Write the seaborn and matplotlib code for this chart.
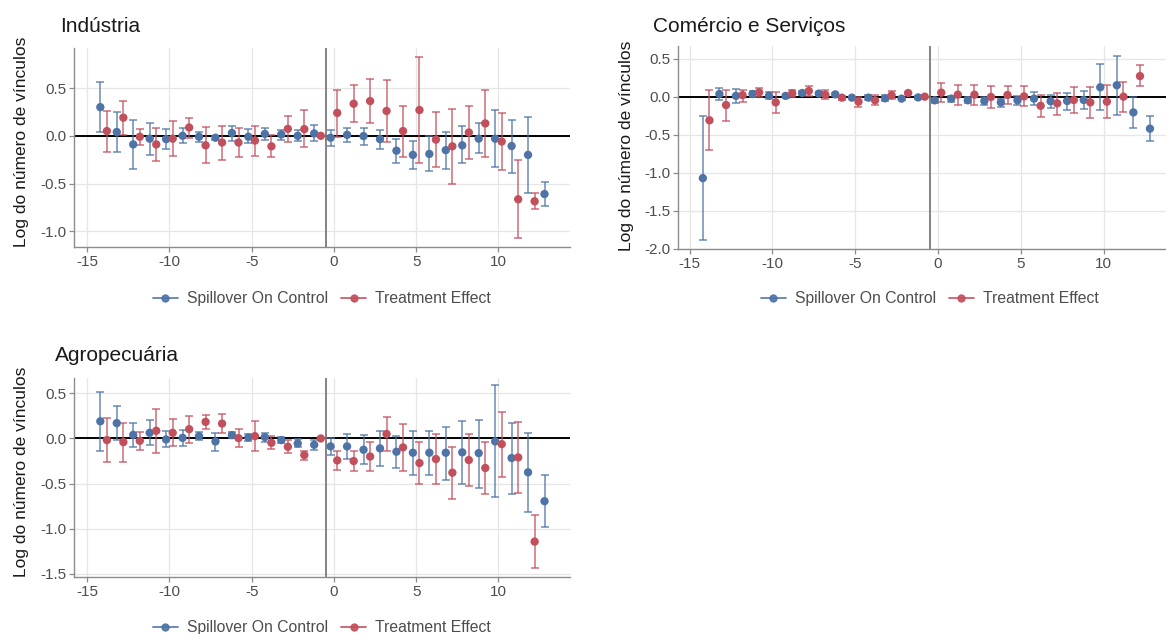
import numpy as np
import pandas as pd
import matplotlib
matplotlib.use("Agg")
import matplotlib.pyplot as plt
from matplotlib.lines import Line2D
import seaborn as sns

# event time: spillover from -14 to 13, treatment from -14 to 12
t_spill = list(range(-14, 14))
t_treat = list(range(-14, 13))

# Indústria
ind_spill_est = [0.30, 0.04, -0.09, -0.03, -0.035, 0.0, -0.01, -0.02, 0.03, -0.01, 0.02, 0.014, 0.0, 0.025,
                 -0.02, 0.01, -0.003, -0.035, -0.156, -0.20, -0.19, -0.15, -0.10, -0.03, -0.03, -0.107, -0.20, -0.61]
ind_spill_lo = [0.04, -0.17, -0.35, -0.20, -0.14, -0.08, -0.06, -0.045, -0.05, -0.08, -0.045, -0.04, -0.055, -0.055,
                -0.107, -0.06, -0.094, -0.14, -0.28, -0.35, -0.37, -0.35, -0.29, -0.18, -0.33, -0.39, -0.60, -0.74]
ind_spill_hi = [0.56, 0.25, 0.17, 0.135, 0.07, 0.08, 0.04, 0.0, 0.10, 0.07, 0.08, 0.066, 0.06, 0.11,
                0.066, 0.087, 0.083, 0.066, -0.035, -0.05, -0.007, 0.045, 0.10, 0.13, 0.27, 0.17, 0.20, -0.48]
ind_treat_est = [0.05, 0.19, -0.01, -0.09, -0.03, 0.087, -0.10, -0.07, -0.07, -0.05, -0.11, 0.073, 0.07, 0.0,
                 0.24, 0.336, 0.364, 0.26, 0.05, 0.27, -0.04, -0.11, 0.035, 0.13, -0.06, -0.665, -0.686]
ind_treat_lo = [-0.17, 0.01, -0.10, -0.26, -0.21, -0.02, -0.29, -0.25, -0.22, -0.21, -0.22, -0.07, -0.12, 0.0,
                -0.01, 0.14, 0.13, -0.06, -0.22, -0.29, -0.33, -0.51, -0.24, -0.22, -0.36, -1.07, -0.77]
ind_treat_hi = [0.26, 0.36, 0.07, 0.08, 0.155, 0.19, 0.09, 0.10, 0.08, 0.10, 0.01, 0.21, 0.27, 0.0,
                0.485, 0.53, 0.60, 0.58, 0.31, 0.83, 0.25, 0.28, 0.31, 0.475, 0.235, -0.25, -0.60]

# Comércio e Serviços
com_spill_est = [-1.07, 0.035, 0.01, 0.035, 0.013, 0.01, 0.048, 0.04, 0.03, -0.013, -0.013, -0.022, -0.026, -0.01,
                 -0.048, -0.026, -0.048, -0.057, -0.075, -0.048, -0.026, -0.06, -0.057, -0.044, 0.123, 0.15, -0.207, -0.42]
com_spill_lo = [-1.88, -0.04, -0.08, 0.0, -0.026, -0.018, 0.022, 0.018, 0.013, -0.026, -0.044, -0.06, -0.04, -0.026,
                -0.083, -0.066, -0.088, -0.105, -0.13, -0.114, -0.105, -0.15, -0.17, -0.16, -0.176, -0.237, -0.418, -0.585]
com_spill_hi = [-0.255, 0.11, 0.10, 0.08, 0.057, 0.035, 0.075, 0.066, 0.044, 0.0, 0.02, 0.022, -0.013, 0.008,
                -0.013, 0.013, 0.0, -0.01, -0.026, 0.013, 0.057, 0.022, 0.053, 0.07, 0.426, 0.54, 0.0, -0.26]
com_treat_est = [-0.31, -0.11, 0.02, 0.057, -0.075, 0.044, 0.075, 0.026, -0.013, -0.066, -0.048, 0.018, 0.048, 0.0,
                 0.053, 0.026, 0.026, -0.004, 0.022, 0.004, -0.12, -0.088, -0.044, -0.075, -0.066, 0.0, 0.27]
com_treat_lo = [-0.70, -0.32, -0.07, 0.0, -0.22, 0.0, 0.01, -0.03, -0.04, -0.136, -0.11, -0.03, 0.03, 0.0,
                -0.066, -0.114, -0.11, -0.15, -0.097, -0.123, -0.27, -0.24, -0.21, -0.277, -0.277, -0.198, 0.136]
com_treat_hi = [0.09, 0.09, 0.09, 0.12, 0.06, 0.088, 0.14, 0.088, 0.013, 0.0, 0.018, 0.075, 0.065, 0.0,
                0.176, 0.158, 0.15, 0.145, 0.14, 0.136, 0.022, 0.053, 0.123, 0.127, 0.15, 0.198, 0.41]

# Agropecuária
agr_spill_est = [0.19, 0.17, 0.04, 0.0625, -0.011, 0.007, 0.026, -0.033, 0.037, 0.011, 0.015, -0.018, -0.055, -0.07,
                 -0.088, -0.088, -0.125, -0.11, -0.147, -0.158, -0.158, -0.158, -0.154, -0.162, -0.033, -0.217, -0.375, -0.695]
agr_spill_lo = [-0.14, -0.018, -0.09, -0.077, -0.10, -0.085, -0.022, -0.136, 0.0, -0.033, -0.037, -0.048, -0.10, -0.129,
                -0.184, -0.228, -0.283, -0.305, -0.327, -0.40, -0.404, -0.456, -0.50, -0.544, -0.65, -0.61, -0.81, -0.985]
agr_spill_hi = [0.515, 0.36, 0.17, 0.21, 0.085, 0.096, 0.074, 0.066, 0.077, 0.05, 0.066, 0.011, -0.004, -0.018,
                0.007, 0.048, 0.033, 0.081, 0.03, 0.081, 0.085, 0.129, 0.19, 0.21, 0.588, 0.176, 0.059, -0.408]
agr_treat_est = [-0.018, -0.04, -0.026, 0.085, 0.0625, 0.103, 0.184, 0.165, 0.004, 0.026, -0.048, -0.092, -0.184, 0.0,
                 -0.243, -0.25, -0.2, 0.05, -0.099, -0.272, -0.228, -0.379, -0.239, -0.327, -0.0625, -0.21, -1.143]
agr_treat_lo = [-0.265, -0.257, -0.125, -0.158, -0.088, -0.048, 0.11, 0.0625, -0.10, -0.136, -0.12, -0.16, -0.243, 0.0,
                -0.346, -0.36, -0.36, -0.14, -0.357, -0.507, -0.51, -0.669, -0.526, -0.614, -0.43, -0.60, -1.434]
agr_treat_hi = [0.23, 0.173, 0.074, 0.33, 0.213, 0.25, 0.257, 0.268, 0.103, 0.19, 0.026, -0.015, -0.136, 0.0,
                -0.143, -0.143, -0.037, 0.24, 0.158, -0.04, 0.048, -0.092, 0.044, -0.04, 0.298, 0.18, -0.853]

series_names = ["Spillover On Control", "Treatment Effect"]
colors = {"Spillover On Control": "#4E73A6", "Treatment Effect": "#C24F5C"}
dodge = {"Spillover On Control": -0.2, "Treatment Effect": 0.2}

sns.set_theme(style="whitegrid")
plt.rcParams["font.family"] = ["Liberation Sans", "DejaVu Sans"]
plt.rcParams["axes.unicode_minus"] = False


def make_df(spill, treat):
    rows = []
    for name, t, (est, lo, hi) in [(series_names[0], t_spill, spill), (series_names[1], t_treat, treat)]:
        for i in range(len(t)):
            rows.append({"t": t[i], "est": est[i], "lo": lo[i], "hi": hi[i], "serie": name})
    df = pd.DataFrame(rows)
    df["x"] = df["t"] + df["serie"].map(dodge)
    return df


def draw(ax, df, title, ylim, yticks, title_xy, leg_xy, xlim, label_xy):
    ax.axhline(0, color="black", lw=1.4, zorder=2)
    ax.axvline(-0.5, color="#7a7a7a", lw=1.3, zorder=2)
    for name in series_names:
        d = df[df["serie"] == name]
        ax.errorbar(d["x"], d["est"], yerr=[d["est"] - d["lo"], d["hi"] - d["est"]],
                    fmt="none", ecolor=colors[name], alpha=0.7, elinewidth=1.3,
                    capsize=2.6, capthick=1.3, zorder=3)
    sns.scatterplot(data=df, x="x", y="est", hue="serie", palette=colors, s=36,
                    edgecolor="none", legend=False, ax=ax, zorder=4)
    ax.set_xlim(*xlim)
    ax.set_ylim(*ylim)
    ax.set_xticks([-15, -10, -5, 0, 5, 10])
    ax.set_yticks(yticks)
    ax.set_yticklabels([f"{v:.1f}" for v in yticks])
    ax.set_xlabel("")
    ax.set_ylabel("Log do número de vínculos", fontsize=12.5, color="#1a1a1a")
    ax.yaxis.set_label_coords(*label_xy)
    ax.grid(True, color="#e6e6e6", lw=0.9)
    for side in ["top", "right"]:
        ax.spines[side].set_visible(False)
    for side in ["left", "bottom"]:
        ax.spines[side].set_color("#8c8c8c")
        ax.spines[side].set_linewidth(1.0)
    ax.tick_params(axis="both", labelsize=11, colors="#4d4d4d", length=3.5, width=0.9,
                   color="#8c8c8c", bottom=True, left=True, pad=2)
    fig.text(title_xy[0], title_xy[1], title, fontsize=15, color="#1a1a1a", va="center", ha="left")
    handles = [Line2D([0], [0], color=colors[n], marker="o", markersize=5, lw=1.3, alpha=0.9)
               for n in series_names]
    ax.legend(handles, series_names, loc="center", bbox_to_anchor=leg_xy, ncol=2,
              frameon=False, fontsize=11.3, handlelength=1.6, columnspacing=0.8,
              handletextpad=0.6, labelcolor="#4d4d4d")


W, H = 1166, 634
fig = plt.figure(figsize=(W / 100, H / 100), dpi=100)
fig.patch.set_facecolor("white")

ax1 = fig.add_axes([74 / W, 1 - 247 / H, 496 / W, 199 / H])
ax2 = fig.add_axes([678 / W, 1 - 249 / H, 488 / W, 203 / H])
ax3 = fig.add_axes([74 / W, 1 - 577 / H, 496 / W, 199 / H])
for a in (ax1, ax2, ax3):
    a.set_facecolor("white")

draw(ax1, make_df((ind_spill_est, ind_spill_lo, ind_spill_hi), (ind_treat_est, ind_treat_lo, ind_treat_hi)),
     "Indústria", (-1.165, 0.92), [0.5, 0.0, -0.5, -1.0], (60 / W, 1 - 27 / H), (0.5, -0.26),
     (-15.8, 14.35), (-0.09, 0.53))
draw(ax2, make_df((com_spill_est, com_spill_lo, com_spill_hi), (com_treat_est, com_treat_lo, com_treat_hi)),
     "Comércio e Serviços", (-2.0, 0.665), [0.5, 0.0, -0.5, -1.0, -1.5, -2.0], (653 / W, 1 - 27 / H),
     (0.516, -0.246), (-15.7, 13.77), (-0.09, 0.51))
draw(ax3, make_df((agr_spill_est, agr_spill_lo, agr_spill_hi), (agr_treat_est, agr_treat_lo, agr_treat_hi)),
     "Agropecuária", (-1.535, 0.67), [0.5, 0.0, -0.5, -1.0, -1.5], (55 / W, 1 - 356 / H), (0.5, -0.255),
     (-15.8, 14.35), (-0.09, 0.53))

fig.savefig("out.png", dpi=100, facecolor="white")
